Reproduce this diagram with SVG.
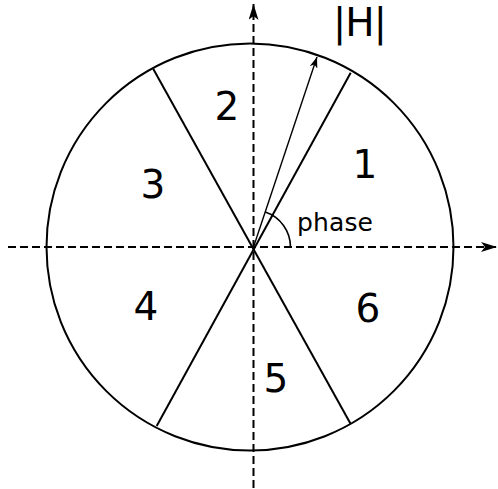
<svg xmlns="http://www.w3.org/2000/svg" width="498" height="489" viewBox="0 0 498 489">
<style>
.ax{stroke:#000;stroke-width:2;stroke-dasharray:8 4;fill:none}
.ln{stroke:#000;stroke-width:2;fill:none}
.lbl{font-family:"DejaVu Sans","Verdana",sans-serif;font-size:39px;text-anchor:middle;fill:#000}
.ph{font-family:"DejaVu Sans","Verdana",sans-serif;font-size:25px;fill:#000}
</style>
<defs>
<marker id="ah" viewBox="0 0 16 10" refX="16" refY="5" markerWidth="16" markerHeight="10" markerUnits="userSpaceOnUse" orient="auto">
<path d="M0,0 L16,5 L0,10 L4,5 Z" fill="#000"/>
</marker>
<marker id="ahs" viewBox="0 0 11 8" refX="11" refY="4" markerWidth="11" markerHeight="8" markerUnits="userSpaceOnUse" orient="auto">
<path d="M0,0 L11,4 L0,8 L3,4 Z" fill="#000"/>
</marker>
</defs>
<rect width="498" height="489" fill="#fff"/>
<g id="circle">
<circle cx="250" cy="247" r="203.5" class="ln"/>
</g>
<g id="connectors">
<line x1="8" y1="247" x2="497" y2="247" class="ax" marker-end="url(#ah)"/>
<line x1="253.5" y1="488" x2="253.5" y2="4" class="ax" marker-end="url(#ah)"/>
<line x1="153.3" y1="69" x2="350.7" y2="424" class="ln"/>
<line x1="350.7" y1="72.7" x2="156.7" y2="426" class="ln"/>
<line x1="253.5" y1="247" x2="317" y2="57" stroke="#000" stroke-width="1.4" marker-end="url(#ahs)"/>
<path d="M265.3,212 A37,37 0 0 1 290.5,247" stroke="#000" stroke-width="1.6" fill="none"/>
</g>
<g id="labels">
<text class="lbl" x="360" y="36" textLength="54" lengthAdjust="spacing">|H|</text>
<text class="lbl" x="365" y="178">1</text>
<text class="lbl" x="227" y="120">2</text>
<text class="lbl" x="153" y="198">3</text>
<text class="lbl" x="146" y="320">4</text>
<text class="lbl" x="276" y="392">5</text>
<text class="lbl" x="368" y="322">6</text>
<text class="ph" x="297" y="231" textLength="76" lengthAdjust="spacing">phase</text>
</g>
</svg>
